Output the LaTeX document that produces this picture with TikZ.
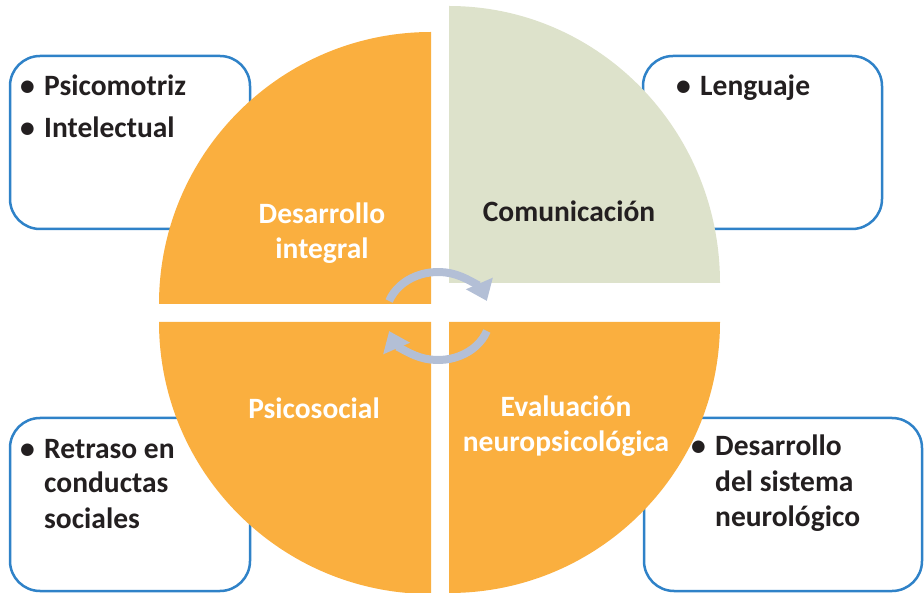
\documentclass[tikz,border=0pt]{standalone}
\usepackage{fontspec}
\setmainfont{Carlito}
\usetikzlibrary{arrows.meta}
\definecolor{qorange}{HTML}{FAAF3F}
\definecolor{qgreen}{HTML}{DDE2CB}
\definecolor{boxblue}{HTML}{2F82C8}
\definecolor{arrowblue}{HTML}{B3BFD6}
\definecolor{txtdark}{HTML}{231F20}
\tikzset{
  infobox/.style={draw=boxblue, line width=2.5pt, rounded corners=30pt, fill=white},
  quadorange/.style={fill=qorange, draw=none},
  quadgreen/.style={fill=qgreen, draw=none},
  itemtxt/.style={anchor=base west, inner sep=0pt, text=txtdark, font=\fontsize{29.5}{34}\selectfont\bfseries},
  quadlabel/.style={anchor=base, inner sep=0pt, text=white, font=\fontsize{29.5}{34}\selectfont\bfseries},
  cyclearrow/.style={draw=arrowblue, line width=8pt, -{Triangle[width=28pt,length=19pt]}}
}
\begin{document}
\begin{tikzpicture}[x=1pt,y=-1pt]
\useasboundingbox (0,0) rectangle (924,593);
% boxes
\path[infobox] (10,56) rectangle (250,229);
\path[infobox] (643,56) rectangle (882,229);
\path[infobox] (10,418) rectangle (250,591);
\path[infobox] (644,418) rectangle (922,591);
% quadrants
\path[quadorange] (431,304) -- (159,304) arc[start angle=180, end angle=270, radius=272] -- cycle;
\path[quadgreen] (449,283) -- (720,283) arc[start angle=0, end angle=-90, x radius=271, y radius=277] -- cycle;
\path[quadorange] (431,322) -- (159,322) arc[start angle=180, end angle=90, radius=272] -- cycle;
\path[quadorange] (449,322) -- (720,322) arc[start angle=0, end angle=90, radius=271] -- cycle;
% cycle arrows
\coordinate (c) at (438,316);
\draw[cyclearrow] ([shift={(160:52pt and 44pt)}]c) arc[start angle=160, end angle=20, x radius=52pt, y radius=44pt];
\draw[cyclearrow] ([shift={(-20:52pt and 44pt)}]c) arc[start angle=-20, end angle=-160, x radius=52pt, y radius=44pt];
% quadrant labels
\node[quadlabel] (di1) at (322,224) {Desarrollo};
\node[quadlabel] (di2) at (322,259) {integral};
\node[quadlabel, text=txtdark] (com) at (569,222) {Comunicación};
\node[quadlabel] (psi) at (314,419) {Psicosocial};
\node[quadlabel] (ev1) at (566,417) {Evaluación};
\node[quadlabel] (ev2) at (566,452) {neuropsicológica};
% box texts
\node[itemtxt] (b1) at (20,96) {\makebox[24pt][l]{•}Psicomotriz};
\node[itemtxt] (b2) at (20,138) {\makebox[24pt][l]{•}Intelectual};
\node[itemtxt] (b3) at (676,96) {\makebox[24pt][l]{•}Lenguaje};
\node[itemtxt] (b4) at (20,458) {\makebox[24pt][l]{•}Retraso en};
\node[itemtxt] (b5) at (44,493) {conductas};
\node[itemtxt] (b6) at (44,528) {sociales};
\node[itemtxt] (b7) at (691,456) {\makebox[24pt][l]{•}Desarrollo};
\node[itemtxt] (b8) at (715,491) {del sistema};
\node[itemtxt] (b9) at (715,526) {neurológico};
\end{tikzpicture}
\end{document}
